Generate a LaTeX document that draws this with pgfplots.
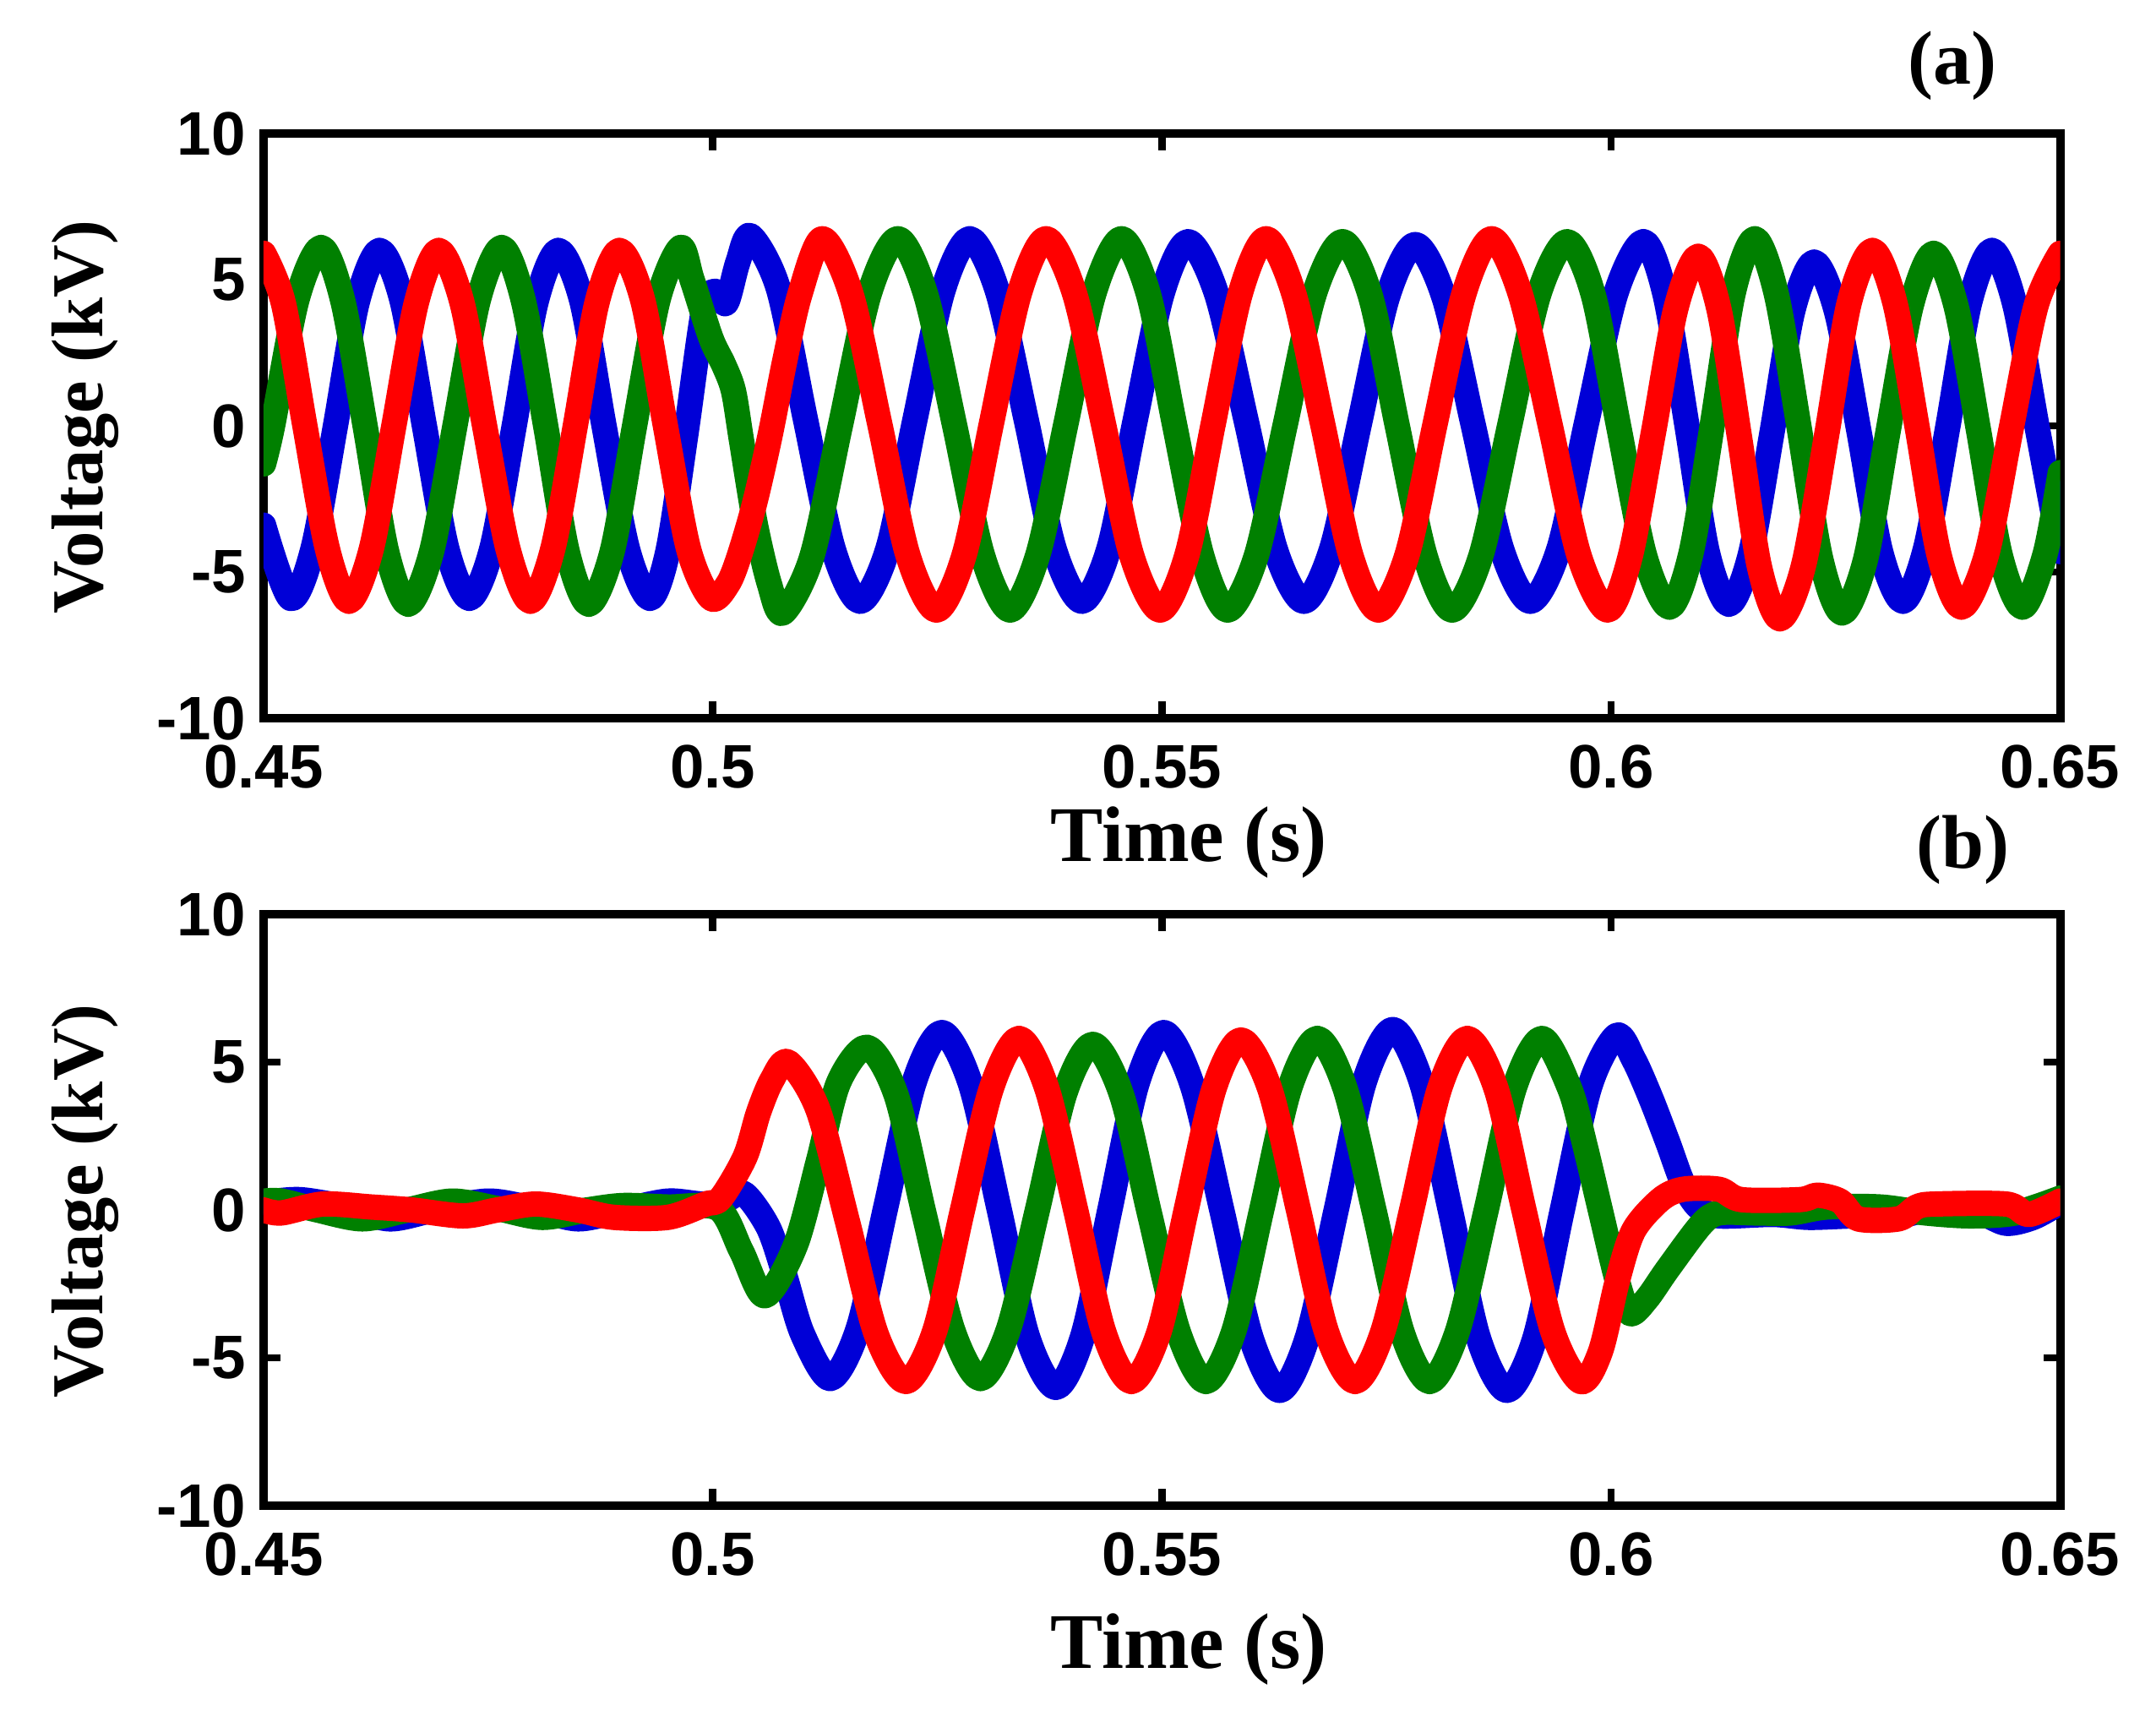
\documentclass[border=0pt]{standalone}
\usepackage{pgfplots}
\pgfplotsset{compat=1.18}
\usepackage{fontspec}
\setmainfont{Liberation Serif}
\newfontfamily\sansb{Liberation Sans}
\definecolor{bl}{RGB}{0,0,215}
\definecolor{gr}{RGB}{0,128,0}
\definecolor{rd}{RGB}{255,0,0}
\pgfplotsset{
  panel/.style={
    scale only axis, width=319pt,
    xmin=0.45, xmax=0.65, ymin=-10, ymax=10,
    xtick={0.45,0.5,0.55,0.6,0.65}, xticklabels={0.45,0.5,0.55,0.6,0.65},
    ytick={-10,-5,0,5,10}, yticklabels={-10,-5,0,5,10},
    tick align=inside, major tick length=3pt,
    every tick/.append style={black, line width=1.3pt},
    axis line style={line width=1.5pt},
    xticklabel style={font=\sansb\bfseries\fontsize{10.9}{12}\selectfont, inner sep=0pt, anchor=north, yshift=-4.5pt},
    yticklabel style={font=\sansb\bfseries\fontsize{10.9}{12}\selectfont, inner sep=0pt, anchor=east, xshift=-3pt},
    ylabel={Voltage (kV)},
    ylabel style={font=\bfseries\fontsize{13}{15}\selectfont, at={(axis description cs:-0.0994,0.515)}, anchor=center},
    xlabel={Time (s)},
    title style={font=\bfseries\fontsize{13.5}{15}\selectfont, anchor=center},
  },
  wave/.style={line width=4.5pt, smooth, line join=round, line cap=round, no markers},
}
\begin{document}
\begin{tikzpicture}
\useasboundingbox (0,0) rectangle (382.8pt,303.6pt);
% ---------------- panel (a) ----------------
\begin{axis}[panel, height=103.8pt, at={(46.8pt,176.1pt)}, anchor=south west,
  xlabel style={font=\bfseries\fontsize{14}{16}\selectfont, at={(axis description cs:0.515,0)}, anchor=center, yshift=-22pt},
  title={(a)}, title style={at={(axis description cs:0.94,1.058)}, anchor=center}]
\addplot[wave, bl] coordinates {
(0.4500,-3.4) (0.4530,-5.9) (0.4555,-4.2) (0.4580,0.0) (0.4604,4.2) (0.4629,6.0) (0.4654,4.3) (0.4679,0.0) (0.4704,-4.2) (0.4729,-5.9) (0.4754,-4.2) (0.4779,0.0) (0.4803,4.2) (0.4828,6.0) (0.4854,4.3) (0.4879,0.0) (0.4905,-4.2) (0.4930,-5.9) (0.4950,-4.3) (0.4970,-0.3) (0.4990,4.0) (0.5003,4.6) (0.5015,4.2) (0.5028,5.6) (0.5042,6.5) (0.5073,4.7) (0.5103,0.25) (0.5134,-4.2) (0.5164,-6.0) (0.5195,-4.2) (0.5225,0.2) (0.5256,4.6) (0.5286,6.4) (0.5317,4.6) (0.5349,0.2) (0.5380,-4.2) (0.5411,-6.0) (0.5441,-4.2) (0.5470,0.15) (0.5500,4.5) (0.5529,6.3) (0.5561,4.5) (0.5594,0.15) (0.5626,-4.2) (0.5658,-6.0) (0.5689,-4.2) (0.5720,0.1) (0.5751,4.4) (0.5782,6.2) (0.5814,4.4) (0.5846,0.1) (0.5878,-4.2) (0.5910,-6.0) (0.5942,-4.2) (0.5973,0.15) (0.6005,4.5) (0.6036,6.3) (0.6060,4.5) (0.6084,0.1) (0.6107,-4.3) (0.6131,-6.1) (0.6155,-4.4) (0.6179,-0.25) (0.6202,3.9) (0.6226,5.6) (0.6251,3.9) (0.6276,-0.2) (0.6300,-4.3) (0.6325,-6.0) (0.6350,-4.2) (0.6375,0.0) (0.6399,4.2) (0.6424,6.0) (0.6449,4.2) (0.6474,0.0) (0.6500,-4.3)
};
\addplot[wave, gr] coordinates {
(0.4500,-1.3) (0.4510,0.0) (0.4537,4.3) (0.4564,6.1) (0.4588,4.3) (0.4613,0.0) (0.4637,-4.3) (0.4661,-6.1) (0.4687,-4.3) (0.4713,0.0) (0.4739,4.3) (0.4765,6.1) (0.4789,4.3) (0.4814,0.0) (0.4838,-4.3) (0.4862,-6.1) (0.4888,-4.3) (0.4913,0.0) (0.4939,4.3) (0.4964,6.1) (0.4977,5.0) (0.4998,3.0) (0.5012,2.1) (0.5023,1.2) (0.5032,-0.5) (0.5047,-3.3) (0.5063,-5.4) (0.5078,-6.4) (0.5110,-4.5) (0.5142,0.0) (0.5174,4.5) (0.5206,6.4) (0.5237,4.5) (0.5269,0.05) (0.5300,-4.4) (0.5331,-6.3) (0.5362,-4.4) (0.5393,0.05) (0.5424,4.5) (0.5455,6.4) (0.5485,4.5) (0.5514,0.05) (0.5544,-4.4) (0.5573,-6.3) (0.5605,-4.45) (0.5637,0.0) (0.5669,4.45) (0.5701,6.3) (0.5732,4.45) (0.5762,0.0) (0.5793,-4.45) (0.5823,-6.3) (0.5855,-4.45) (0.5887,0.0) (0.5919,4.45) (0.5951,6.3) (0.5980,4.5) (0.6008,0.05) (0.6037,-4.4) (0.6065,-6.2) (0.6089,-4.35) (0.6113,0.1) (0.6136,4.55) (0.6160,6.4) (0.6184,4.5) (0.6209,0.0) (0.6233,-4.5) (0.6257,-6.4) (0.6283,-4.6) (0.6308,-0.25) (0.6334,4.1) (0.6359,5.9) (0.6384,4.1) (0.6409,-0.15) (0.6433,-4.4) (0.6458,-6.2) (0.6483,-4.4) (0.6500,-1.6)
};
\addplot[wave, rd] coordinates {
(0.4500,5.9) (0.4522,4.2) (0.4546,0.0) (0.4571,-4.2) (0.4595,-6.0) (0.4620,-4.2) (0.4645,0.0) (0.4670,4.2) (0.4695,6.0) (0.4721,4.2) (0.4746,0.0) (0.4772,-4.2) (0.4797,-6.0) (0.4822,-4.2) (0.4847,0.0) (0.4871,4.2) (0.4896,6.0) (0.4922,4.3) (0.4947,0.05) (0.4973,-4.2) (0.4998,-5.9) (0.5017,-5.4) (0.5030,-4.4) (0.5047,-2.6) (0.5064,-0.3) (0.5080,2.2) (0.5097,4.5) (0.5122,6.4) (0.5154,4.5) (0.5186,0.05) (0.5217,-4.4) (0.5249,-6.3) (0.5280,-4.4) (0.5310,0.05) (0.5341,4.5) (0.5371,6.4) (0.5403,4.5) (0.5435,0.05) (0.5466,-4.4) (0.5498,-6.3) (0.5528,-4.4) (0.5557,0.05) (0.5587,4.5) (0.5616,6.4) (0.5647,4.5) (0.5679,0.05) (0.5710,-4.4) (0.5741,-6.3) (0.5773,-4.4) (0.5804,0.05) (0.5836,4.5) (0.5867,6.4) (0.5899,4.5) (0.5932,0.05) (0.5964,-4.4) (0.5996,-6.3) (0.6021,-4.5) (0.6047,-0.25) (0.6072,4.0) (0.6097,5.8) (0.6120,4.0) (0.6143,-0.4) (0.6165,-4.8) (0.6188,-6.6) (0.6214,-4.8) (0.6240,-0.3) (0.6265,4.2) (0.6291,6.0) (0.6316,4.2) (0.6341,-0.1) (0.6365,-4.4) (0.6390,-6.2) (0.6418,-4.4) (0.6445,-0.15) (0.6473,4.1) (0.6500,5.9)
};
\end{axis}
% ---------------- panel (b) ----------------
\begin{axis}[panel, height=105pt, at={(46.8pt,36.3pt)}, anchor=south west,
  xlabel style={font=\bfseries\fontsize{14}{16}\selectfont, at={(axis description cs:0.515,0)}, anchor=center, yshift=-25.5pt},
  title={(b)}, title style={at={(axis description cs:0.946,1.052)}, anchor=center}]
\addplot[wave, bl] coordinates {
(0.4500,0.25) (0.4540,0.35) (0.4590,0.1) (0.4640,-0.3) (0.4690,0.0) (0.4750,0.3) (0.4800,0.05) (0.4850,-0.3) (0.4900,0.0) (0.4950,0.3) (0.4990,0.2) (0.5015,0.35) (0.5035,0.55) (0.5062,-0.6) (0.5080,-2.2) (0.5100,-4.2) (0.5131,-5.7) (0.5162,-4.0) (0.5193,0.15) (0.5224,4.3) (0.5255,6.0) (0.5287,4.25) (0.5319,0.0) (0.5350,-4.25) (0.5382,-6.0) (0.5412,-4.25) (0.5442,0.0) (0.5472,4.25) (0.5502,6.0) (0.5534,4.2) (0.5567,-0.05) (0.5599,-4.3) (0.5631,-6.1) (0.5662,-4.3) (0.5694,0.0) (0.5725,4.3) (0.5757,6.1) (0.5789,4.3) (0.5821,0.0) (0.5852,-4.3) (0.5884,-6.1) (0.5915,-4.35) (0.5945,-0.1) (0.5976,4.15) (0.6006,5.9) (0.6025,5.1) (0.6044,3.8) (0.6063,2.3) (0.6080,0.9) (0.6097,0.1) (0.6120,-0.2) (0.6180,-0.15) (0.6220,-0.25) (0.6270,-0.2) (0.6320,-0.2) (0.6360,0.05) (0.6410,-0.1) (0.6440,-0.45) (0.6470,-0.25) (0.6500,0.25)
};
\addplot[wave, gr] coordinates {
(0.4500,0.3) (0.4520,0.3) (0.4560,0.0) (0.4610,-0.3) (0.4660,0.0) (0.4710,0.3) (0.4760,0.05) (0.4810,-0.25) (0.4860,0.0) (0.4900,0.15) (0.4950,0.1) (0.5006,0.05) (0.5032,-1.4) (0.5058,-2.9) (0.5092,-1.2) (0.5118,1.7) (0.5140,4.3) (0.5172,5.5) (0.5204,3.9) (0.5235,-0.1) (0.5267,-4.05) (0.5298,-5.7) (0.5329,-4.05) (0.5361,-0.05) (0.5392,3.95) (0.5423,5.6) (0.5455,3.9) (0.5486,-0.1) (0.5518,-4.1) (0.5549,-5.8) (0.5580,-4.1) (0.5611,0.0) (0.5642,4.1) (0.5673,5.8) (0.5704,4.1) (0.5736,0.0) (0.5767,-4.1) (0.5798,-5.8) (0.5829,-4.1) (0.5861,0.0) (0.5892,4.1) (0.5923,5.8) (0.5954,4.1) (0.5970,2.3) (0.5988,0.0) (0.6007,-2.4) (0.6021,-3.5) (0.6040,-3.0) (0.6063,-2.0) (0.6100,-0.5) (0.6120,-0.1) (0.6160,-0.1) (0.6200,-0.1) (0.6240,0.1) (0.6300,0.1) (0.6350,-0.1) (0.6400,-0.2) (0.6450,-0.1) (0.6500,0.4)
};
\addplot[wave, rd] coordinates {
(0.4500,0.0) (0.4520,-0.1) (0.4566,0.2) (0.4620,0.1) (0.4665,0.0) (0.4722,-0.2) (0.4760,0.0) (0.4803,0.2) (0.4850,0.0) (0.4890,-0.25) (0.4950,-0.25) (0.4992,0.2) (0.5009,0.4) (0.5036,1.8) (0.5051,3.3) (0.5066,4.4) (0.5084,5.0) (0.5117,3.4) (0.5150,-0.4) (0.5182,-4.2) (0.5215,-5.8) (0.5247,-4.1) (0.5278,0.0) (0.5310,4.1) (0.5341,5.8) (0.5372,4.1) (0.5404,0.0) (0.5435,-4.1) (0.5466,-5.8) (0.5497,-4.1) (0.5527,0.0) (0.5558,4.1) (0.5588,5.75) (0.5620,4.1) (0.5652,0.0) (0.5683,-4.1) (0.5715,-5.8) (0.5746,-4.1) (0.5778,0.0) (0.5809,4.1) (0.5840,5.8) (0.5872,4.1) (0.5903,0.0) (0.5935,-4.1) (0.5966,-5.8) (0.5988,-4.8) (0.6007,-2.4) (0.6025,-0.7) (0.6055,0.35) (0.6080,0.7) (0.6120,0.7) (0.6145,0.35) (0.6210,0.35) (0.6230,0.5) (0.6255,0.3) (0.6275,-0.3) (0.6320,-0.3) (0.6340,0.1) (0.6360,0.2) (0.6440,0.2) (0.6465,-0.15) (0.6500,0.3)
};
\end{axis}
\end{tikzpicture}
\end{document}
